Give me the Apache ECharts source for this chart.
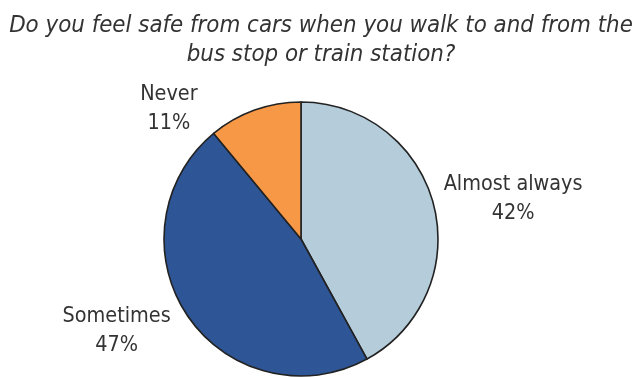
<!DOCTYPE html>
<html>
<head>
<meta charset="utf-8">
<script src="https://cdn.jsdelivr.net/npm/echarts@6/dist/echarts.min.js"></script>
<style>
  html, body { margin: 0; padding: 0; background: #fff; }
  #chart { width: 642px; height: 377px; }
</style>
</head>
<body>
<div id="chart"></div>
<script>
const titleText = 'Do you feel safe from cars when you walk to and from the\nbus stop or train station?';
const categories = ['Almost always', 'Sometimes', 'Never'];
const shares = [42, 47, 11];
const sliceColors = ['#b5cddb', '#2e5596', '#f79847'];

// small per-slice nudges for the outside labels (pixels)
const labelNudgeX = [5, -12, -52];
const labelNudgeY = [-6, 15, -1];

const FONT = '"DejaVu Sans Condensed", "Liberation Sans", sans-serif';

const chart = echarts.init(document.getElementById('chart'), null, { renderer: 'canvas' });

chart.setOption({
  backgroundColor: '#ffffff',
  animation: false,
  title: {
    text: titleText,
    left: 'center',
    top: 6,
    textStyle: {
      fontFamily: FONT,
      fontStyle: 'italic',
      fontWeight: 'normal',
      fontSize: 23.8,
      lineHeight: 29,
      color: '#333333'
    }
  },
  series: [{
    type: 'pie',
    center: [301, 239],
    radius: 137,
    startAngle: 90,
    clockwise: true,
    data: categories.map((name, i) => ({
      name,
      value: shares[i],
      itemStyle: { color: sliceColors[i] }
    })),
    itemStyle: { borderColor: '#222222', borderWidth: 1.6 },
    label: {
      show: true,
      position: 'outside',
      formatter: '{b}\n{c}%',
      distance: 8,
      fontFamily: FONT,
      fontSize: 21.4,
      lineHeight: 29,
      color: '#333333'
    },
    labelLine: { show: false, length: 0, length2: 0 },
    labelLayout: function (params) {
      const r = params.labelRect;
      const i = params.dataIndex;
      return {
        x: r.x + r.width / 2 + labelNudgeX[i],
        y: r.y + r.height / 2 + labelNudgeY[i],
        align: 'center',
        verticalAlign: 'middle'
      };
    },
    emphasis: { disabled: true }
  }]
});
</script>
</body>
</html>
